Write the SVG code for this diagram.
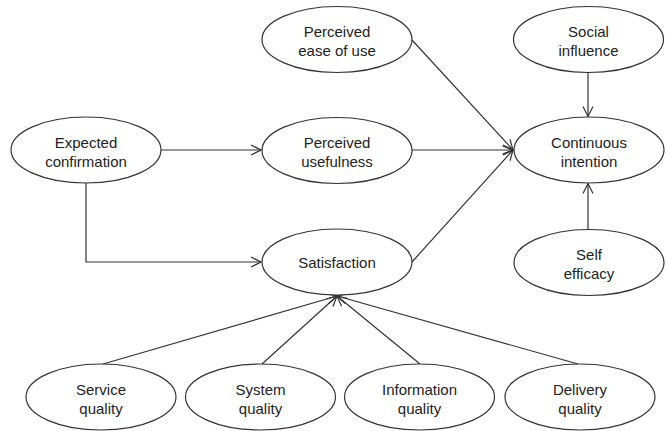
<svg xmlns="http://www.w3.org/2000/svg" width="667" height="431" viewBox="0 0 667 431">
<style>
.node ellipse{fill:#fff;stroke:#333;stroke-width:1.2}
.node text{font-family:"Liberation Sans",Arial,sans-serif;font-size:15px;fill:#222;text-anchor:middle}
#connectors path,#connectors line{stroke:#333;stroke-width:1.2;fill:none}
</style>
<defs>
<marker id="arr" viewBox="0 0 12 12" refX="11" refY="6" markerWidth="12" markerHeight="12" markerUnits="userSpaceOnUse" orient="auto">
<path d="M1,1 L11,6 L1,11" fill="none" stroke="#333" stroke-width="1.2"/>
</marker>
</defs>
<rect width="667" height="431" fill="#fff"/>
<g id="connectors">
<line x1="161" y1="150" x2="261" y2="150" marker-end="url(#arr)"/>
<path d="M86,183 V262 H261" marker-end="url(#arr)"/>
<line x1="412" y1="40" x2="513" y2="150" marker-end="url(#arr)"/>
<line x1="412" y1="150" x2="513" y2="150" marker-end="url(#arr)"/>
<line x1="412" y1="262" x2="513" y2="150" marker-end="url(#arr)"/>
<line x1="588" y1="72" x2="588" y2="116.5" marker-end="url(#arr)"/>
<line x1="588" y1="229.5" x2="588" y2="183.5" marker-end="url(#arr)"/>
<line x1="103" y1="364" x2="337" y2="296" marker-end="url(#arr)"/>
<line x1="262" y1="364" x2="337" y2="296" marker-end="url(#arr)"/>
<line x1="420" y1="364" x2="337" y2="296" marker-end="url(#arr)"/>
<line x1="578" y1="364" x2="337" y2="296" marker-end="url(#arr)"/>
</g>
<g id="ease" class="node"><ellipse cx="337" cy="39.5" rx="75" ry="33"/><text x="337" y="37">Perceived</text><text x="337" y="56">ease of use</text></g>
<g id="social" class="node"><ellipse cx="588.5" cy="39.5" rx="75" ry="33"/><text x="588.5" y="37">Social</text><text x="588.5" y="56">influence</text></g>
<g id="expected" class="node"><ellipse cx="86" cy="150" rx="75" ry="33"/><text x="86" y="148">Expected</text><text x="86" y="167">confirmation</text></g>
<g id="usefulness" class="node"><ellipse cx="337" cy="150.5" rx="75" ry="33"/><text x="337" y="148">Perceived</text><text x="337" y="167">usefulness</text></g>
<g id="continuous" class="node"><ellipse cx="589" cy="150" rx="75" ry="33"/><text x="589" y="148">Continuous</text><text x="589" y="167">intention</text></g>
<g id="satisfaction" class="node"><ellipse cx="337" cy="262" rx="75" ry="33"/><text x="337" y="268">Satisfaction</text></g>
<g id="self" class="node"><ellipse cx="589" cy="262.5" rx="75" ry="33"/><text x="589" y="260">Self</text><text x="589" y="279">efficacy</text></g>
<g id="service" class="node"><ellipse cx="101" cy="397" rx="75" ry="33"/><text x="101" y="395">Service</text><text x="101" y="414">quality</text></g>
<g id="system" class="node"><ellipse cx="260.5" cy="397" rx="75" ry="33"/><text x="260.5" y="395">System</text><text x="260.5" y="414">quality</text></g>
<g id="information" class="node"><ellipse cx="419.5" cy="397" rx="75" ry="33"/><text x="419.5" y="395">Information</text><text x="419.5" y="414">quality</text></g>
<g id="delivery" class="node"><ellipse cx="580" cy="397" rx="75" ry="33"/><text x="580" y="395">Delivery</text><text x="580" y="414">quality</text></g>
</svg>
